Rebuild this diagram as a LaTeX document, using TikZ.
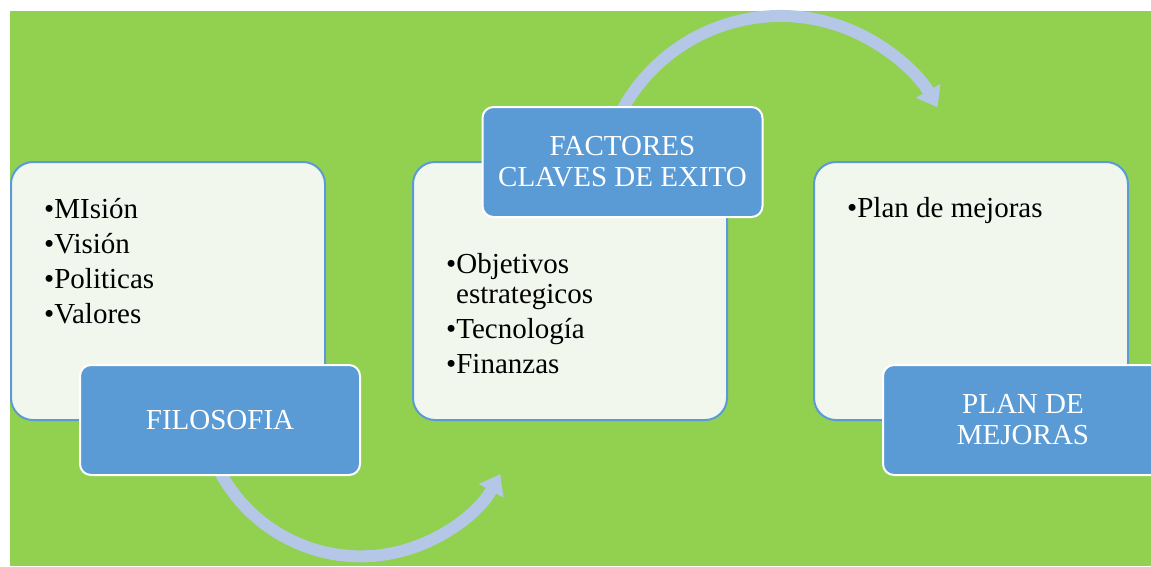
\documentclass[tikz,border=0pt]{standalone}
\usepackage{fontspec}
\setmainfont{Liberation Serif}
\usetikzlibrary{arrows.meta}
\definecolor{bggreen}{HTML}{92D050}
\definecolor{lightfill}{RGB}{241,247,237}
\definecolor{accentblue}{HTML}{5B9BD5}
\definecolor{arrowblue}{HTML}{B4C7E7}
\tikzset{
  lightbox/.style={rectangle, rounded corners=22pt, draw=accentblue, line width=2pt,
    fill=lightfill, minimum width=314pt, minimum height=258pt, inner sep=0pt},
  labelbox/.style={rectangle, rounded corners=11pt, draw=white, line width=2pt,
    fill=accentblue, minimum width=280pt, minimum height=110pt, inner sep=0pt,
    text=white, align=center, font=\fontsize{29}{31}\selectfont},
  item/.style={anchor=base west, inner sep=0pt, font=\fontsize{29}{30}\selectfont, text=black},
  bigarrow/.style={draw=arrowblue, line width=12pt, -{Triangle[width=27pt,length=19pt]}, arrowblue}
}
\begin{document}
\begin{tikzpicture}[x=1pt,y=-1pt]
\useasboundingbox (0,0) rectangle (1151,566);
\clip (0,0) rectangle (1151,566);
\fill[bggreen] (10,11) rectangle (1151,566);

% arc centres
\coordinate (c1) at (360.8,396.8);
\coordinate (c2) at (780.6,196.5);
\draw[bigarrow] ([shift={(-165:159.5pt)}]c1) arc[start angle=-165, end angle=-29, radius=159.5pt];
\draw[bigarrow] ([shift={(155:180.5pt)}]c2) arc[start angle=155, end angle=29.6, radius=180.5pt];

% light boxes
\node[lightbox] (box1) at (168,291) {};
\node[lightbox] (box2) at (570,291) {};
\node[lightbox] (box3) at (971,291) {};

% bullet items
\node[item] (i11) at (44,218) {\textbullet MIsión};
\node[item] (i12) at (44,253) {\textbullet Visión};
\node[item] (i13) at (44,288) {\textbullet Politicas};
\node[item] (i14) at (44,323) {\textbullet Valores};

\node[item] (i21) at (446,273) {\textbullet Objetivos};
\node[item] (i22) at (456,303) {estrategicos};
\node[item] (i23) at (446,338) {\textbullet Tecnología};
\node[item] (i24) at (446,373) {\textbullet Finanzas};

\node[item] (i31) at (847,217) {\textbullet Plan de mejoras};

% labels
\node[labelbox] (lab1) at (220,420) {FILOSOFIA};
\node[labelbox] (lab2) at (622.5,162) {FACTORES\\CLAVES DE EXITO};
\node[labelbox] (lab3) at (1023,420) {PLAN DE\\MEJORAS};
\end{tikzpicture}
\end{document}
